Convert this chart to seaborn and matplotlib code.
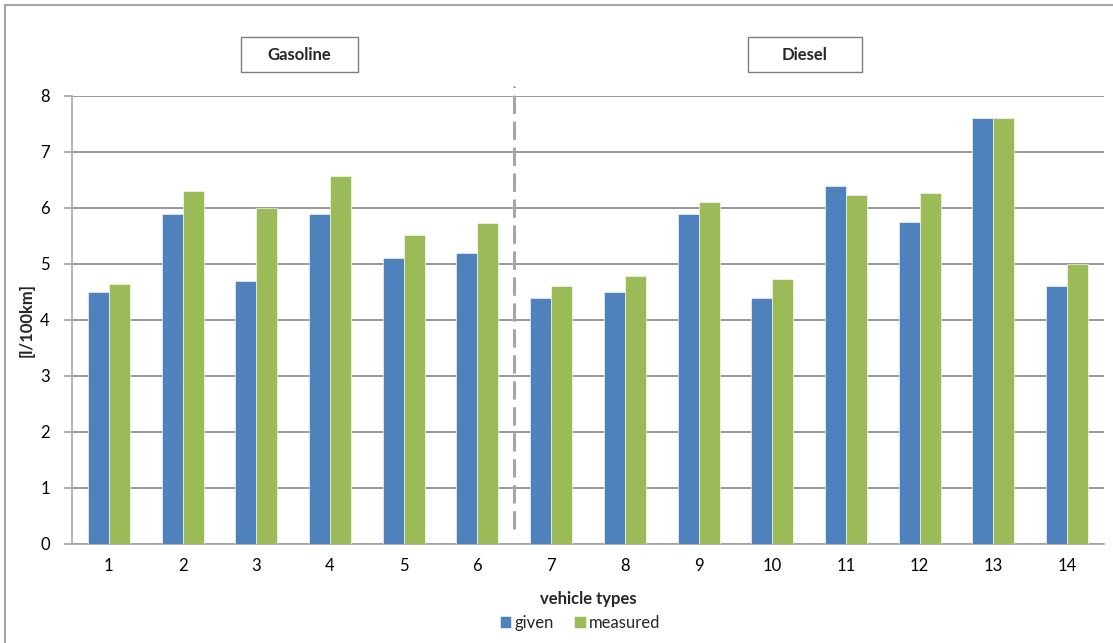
import matplotlib
matplotlib.use("Agg")
import matplotlib.pyplot as plt
import matplotlib.lines as mlines
import matplotlib.patches as mpatches
import seaborn as sns
import pandas as pd

# Fuel consumption per vehicle type
vehicle_types = [str(i) for i in range(1, 15)]
given = [4.5, 5.9, 4.7, 5.9, 5.1, 5.2, 4.4, 4.5, 5.9, 4.4, 6.4, 5.75, 7.6, 4.6]
measured = [4.65, 6.3, 6.0, 6.57, 5.52, 5.73, 4.6, 4.79, 6.1, 4.73, 6.23, 6.27, 7.6, 5.0]
series_names = ["given", "measured"]
group_labels = ["Gasoline", "Diesel"]

df = pd.DataFrame({
    "vehicle": vehicle_types * 2,
    "value": given + measured,
    "series": [series_names[0]] * len(given) + [series_names[1]] * len(measured),
})

sns.set_theme(style="white")
plt.rcParams["font.family"] = ["Lato", "DejaVu Sans"]

W, H = 1113, 643
fig = plt.figure(figsize=(W / 100, H / 100), dpi=100)
ax = fig.add_axes([72 / W, 1 - 544 / H, (1104 - 72) / W, (544 - 96) / H])

palette = {"given": "#4F81BD", "measured": "#9BBB59"}
sns.barplot(data=df, x="vehicle", y="value", hue="series", palette=palette,
            width=0.57, gap=0, ax=ax, legend=True, saturation=1,
            edgecolor="white", linewidth=0.4, zorder=3)

ax.set_ylim(0, 8)
ax.set_xlim(-0.5, len(vehicle_types) - 0.5)
ax.set_yticks(range(0, 9))
ax.yaxis.grid(True, color="#868686", linewidth=1.2, zorder=0)
ax.set_axisbelow(True)

for side in ["top", "right"]:
    ax.spines[side].set_visible(False)
for side in ["left", "bottom"]:
    ax.spines[side].set_color("#A6A6A6")
    ax.spines[side].set_linewidth(1.2)

# category boundary ticks on the x axis
ax.set_xticks(range(len(vehicle_types)))
ax.set_xticklabels(vehicle_types)
ax.set_xticks([i - 0.5 for i in range(len(vehicle_types) + 1)], minor=True)
ax.tick_params(axis="x", which="major", length=0, pad=10, labelsize=12, colors="black")
ax.tick_params(axis="x", which="minor", length=5, width=1.2, color="#A6A6A6", direction="out")
ax.tick_params(axis="y", length=6, width=1.2, color="#A6A6A6", direction="out",
               left=True, labelsize=12, pad=10, colors="black")
for t in ax.get_yticklabels():
    t.set_color("black")

ax.set_xlabel("vehicle types", fontsize=12, fontweight="bold", labelpad=12)
ax.set_ylabel("[l/100km]", fontsize=12, fontweight="bold")
ax.yaxis.set_label_coords(-0.036, 0.5)

# separator between gasoline and diesel groups
ax.plot([5.5, 5.5], [0.27, 8.18], color="#A6A6A6", linewidth=2.2,
        linestyle=(0, (6, 2.5)), clip_on=False, zorder=4)

# group captions in framed boxes
for label, (x0, x1) in zip(group_labels, [(241, 358), (748, 862)]):
    fig.add_artist(mpatches.Rectangle((x0 / W, 1 - 72 / H), (x1 - x0) / W, 35 / H,
                                      transform=fig.transFigure, facecolor="white",
                                      edgecolor="#7F7F7F", linewidth=1.0))
    fig.text((x0 + x1) / 2 / W, 1 - 54.5 / H, label, ha="center", va="center",
             fontsize=12, fontweight="bold")

# legend below the axis title
handles, labels = ax.get_legend_handles_labels()
ax.legend_.remove()
fig.legend(handles, labels, loc="center", bbox_to_anchor=(580 / W, 1 - 623 / H),
           ncol=2, frameon=False, fontsize=12, handlelength=0.7, handleheight=0.7,
           handletextpad=0.2, columnspacing=1.2)

# chart frame
fig.add_artist(mlines.Line2D([5 / W, 5 / W], [0, 1 - 5 / H], color="#A6A6A6",
                             linewidth=1.5, transform=fig.transFigure))
fig.add_artist(mlines.Line2D([5 / W, 1], [1 - 5 / H, 1 - 5 / H], color="#A6A6A6",
                             linewidth=1.5, transform=fig.transFigure))

fig.savefig("out.png", dpi=100)
